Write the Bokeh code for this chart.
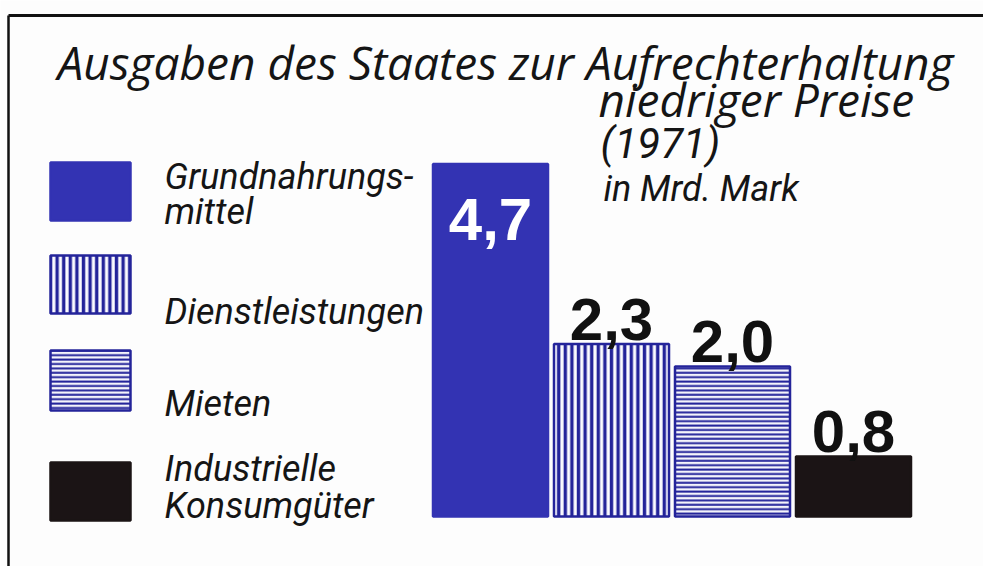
from bokeh.plotting import figure
from bokeh.models import Range1d, ColumnDataSource
from bokeh.core.properties import value
from bokeh.embed import file_html
from bokeh.resources import INLINE

# ---------------- data ----------------
categories = ["Grundnahrungsmittel", "Dienstleistungen", "Mieten", "Industrielle Konsumgüter"]
legend_lines = [["Grundnahrungs-", "mittel"], ["Dienstleistungen"], ["Mieten"], ["Industrielle", "Konsumgüter"]]
values = [4.7, 2.3, 2.0, 0.8]
value_labels = ["4,7", "2,3", "2,0", "0,8"]
title_lines = ["Ausgaben des Staates zur Aufrechterhaltung", "niedriger Preise"]
subtitle_lines = ["(1971)", "in Mrd. Mark"]

# ---------------- layout ----------------
W, H = 983, 566
PX_PER_UNIT = 75.0   # pixels per Mrd. Mark
BASE_PX = 516        # pixel row of the bars' baseline
BAR0_PX = 490        # centre of the first bar
BAR_STEP = 121       # distance between bar centres
TXT_DY = 17          # correction for text baseline placement


def px_x(px):
    return (px - BAR0_PX) / BAR_STEP


def px_y(py):
    return (BASE_PX - py) / PX_PER_UNIT


def txt_y(py):
    return px_y(py - TXT_DY)


BLUE = "#3333b3"
DARK_BLUE = "#24249a"
BLACK = "#1b1415"
BG = "#fdfdfd"
COND = value("Roboto")

p = figure(width=W, height=H, x_range=Range1d(px_x(0), px_x(W)),
           y_range=Range1d(px_y(H), px_y(0)), output_backend="svg",
           toolbar_location=None, min_border=0, outline_line_color=None,
           background_fill_color=BG, border_fill_color=BG)
p.axis.visible = False
p.grid.visible = False

# frame lines (top and left)
p.line([px_x(8), px_x(W)], [px_y(15), px_y(15)], line_color="#111111", line_width=3)
p.line([px_x(8), px_x(8)], [px_y(15), px_y(H)], line_color="#111111", line_width=2.5)

fills = [BLUE, "#fbfbff", "#f4f4fb", BLACK]
hatches = [" ", "vertical_line", "horizontal_line", " "]
hscales = [8, 6.6, 4.4, 8]
hweights = [1, 3.4, 2.0, 1]
lines = [BLUE, DARK_BLUE, DARK_BLUE, BLACK]

src = ColumnDataSource(dict(x=list(range(len(values))), top=values, fill=fills,
                            hatch=hatches, hscale=hscales, hweight=hweights, lc=lines))
p.vbar(x="x", top="top", bottom=0, width=115 / BAR_STEP, source=src,
       fill_color="fill", line_color="lc", line_width=2.5,
       hatch_pattern="hatch", hatch_color=DARK_BLUE, hatch_scale="hscale",
       hatch_weight="hweight")

# value labels
lab_y = []
lab_c = []
for i, v in enumerate(values):
    top_px = BASE_PX - v * PX_PER_UNIT
    if i == 0:
        lab_y.append(txt_y(top_px + 72))
        lab_c.append("#ffffff")
    else:
        lab_y.append(txt_y(top_px - 8))
        lab_c.append("#111111")
p.text(x=list(range(len(values))), y=lab_y, text=value_labels, text_color=lab_c,
       text_font=value("Liberation Sans"), text_font_style="bold",
       text_font_size="60px", text_align="center", text_baseline="alphabetic")

# legend swatches
sw_y = [191, 284, 380, 491]
sw_h = [58, 58, 60, 58]
p.rect(x=[px_x(90)] * 4, y=[px_y(v) for v in sw_y], width=80 / BAR_STEP,
       height=[h / PX_PER_UNIT for h in sw_h], fill_color=fills, line_color=lines,
       line_width=2.5, hatch_pattern=hatches, hatch_color=DARK_BLUE,
       hatch_scale=hscales, hatch_weight=hweights)

# legend texts
leg_base = [[193, 228], [328], [420], [485, 522]]
lx, ly, lt = [], [], []
for lines_, bases in zip(legend_lines, leg_base):
    for t, b in zip(lines_, bases):
        lx.append(px_x(164))
        ly.append(txt_y(b))
        lt.append(t)
p.text(x=lx, y=ly, text=lt, text_color="#151515",
       text_font=COND, text_font_style="italic",
       text_font_size="36px", text_align="left", text_baseline="alphabetic")

# title
p.text(x=[px_x(57), px_x(598)], y=[txt_y(78), txt_y(115)], text=title_lines,
       text_color="#151515", text_font=value("Open Sans"), text_font_style="italic",
       text_font_size="46px", text_align="left", text_baseline="alphabetic")
p.text(x=[px_x(600)], y=[txt_y(160)], text=subtitle_lines[:1],
       text_color="#151515", text_font=COND,
       text_font_style="italic", text_font_size="42px", text_align="left",
       text_baseline="alphabetic")
p.text(x=[px_x(603)], y=[txt_y(205)], text=subtitle_lines[1:],
       text_color="#151515", text_font=COND,
       text_font_style="italic", text_font_size="36px", text_align="left",
       text_baseline="alphabetic")

open("out.html", "w").write(file_html(p, INLINE))
